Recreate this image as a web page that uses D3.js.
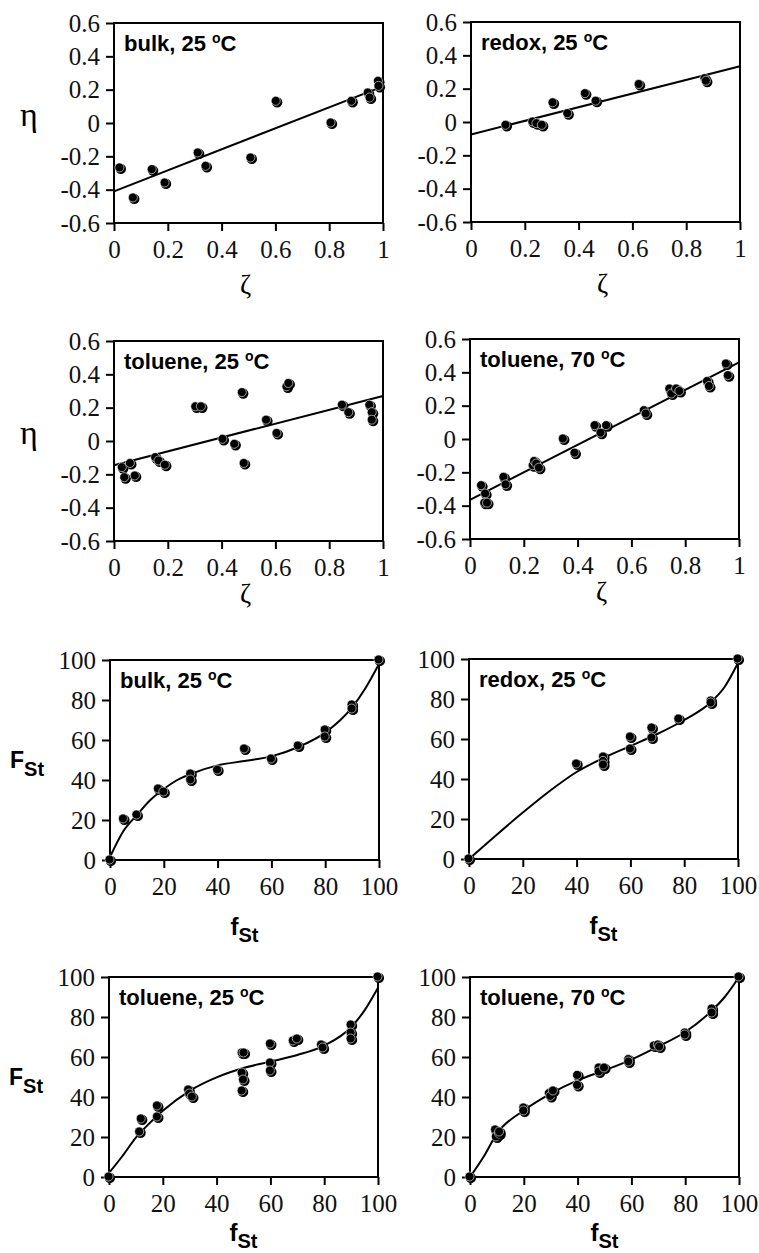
<!DOCTYPE html>
<html>
<head>
<meta charset="utf-8">
<script src="https://cdn.jsdelivr.net/npm/d3@7"></script>
<style>
  body { margin: 0; background: #fff; }
  svg { display: block; }
</style>
</head>
<body>
<div id="chart"></div>
<script>
// ---- data ----
// eta vs zeta panels
var bulkZeta = [0.022, 0.072, 0.142, 0.19, 0.313, 0.342, 0.509, 0.603, 0.807, 0.884, 0.945, 0.952, 0.983, 0.985];
var bulkEta = [-0.27, -0.45, -0.28, -0.36, -0.18, -0.26, -0.21, 0.13, 0.0, 0.13, 0.18, 0.15, 0.25, 0.22];
var bulkFit = [-0.41, 0.22]; // eta at zeta = 0 and 1

var redoxZeta = [0.13, 0.23, 0.245, 0.265, 0.305, 0.36, 0.425, 0.465, 0.625, 0.87, 0.875];
var redoxEta = [-0.02, 0.0, -0.01, -0.02, 0.115, 0.05, 0.17, 0.125, 0.225, 0.26, 0.245];
var redoxFit = [-0.075, 0.335];

var tol25Zeta = [0.031, 0.04, 0.061, 0.079, 0.155, 0.167, 0.191, 0.304, 0.325, 0.405, 0.449,
  0.477, 0.484, 0.567, 0.606, 0.643, 0.65, 0.849, 0.873, 0.951, 0.96, 0.96];
var tol25Eta = [-0.16, -0.22, -0.135, -0.21, -0.10, -0.12, -0.145, 0.205, 0.205, 0.01, -0.02,
  0.29, -0.135, 0.125, 0.045, 0.325, 0.345, 0.215, 0.17, 0.215, 0.17, 0.125];
var tol25Fit = [-0.145, 0.27];

var tol70Zeta = [0.043, 0.058, 0.055, 0.065, 0.126, 0.134, 0.235, 0.24, 0.248, 0.258, 0.347, 0.39,
  0.465, 0.487, 0.508, 0.648, 0.655, 0.743, 0.75, 0.768, 0.78, 0.883, 0.89, 0.953, 0.96];
var tol70Eta = [-0.28, -0.33, -0.385, -0.385, -0.23, -0.275, -0.16, -0.135, -0.15, -0.175, 0.0, -0.085,
  0.08, 0.035, 0.08, 0.17, 0.15, 0.30, 0.27, 0.30, 0.285, 0.345, 0.315, 0.45, 0.38];
var tol70Fit = [-0.365, 0.46];

// F_St vs f_St panels (points + fitted curve)
var bulkF = [0, 5, 10, 18, 20, 30, 30, 40, 50, 60, 70, 80, 80, 90, 90, 100];
var bulkFF = [0, 20.5, 22.5, 35.5, 34, 43, 40, 45, 55.5, 50.5, 57, 65, 61.5, 77.5, 75.5, 100];
var bulkCurveF = [0, 5, 10, 15, 20, 25, 30, 40, 50, 60, 70, 80, 90, 95, 100];
var bulkCurveFF = [1.5, 14.5, 22.5, 30, 35.5, 40, 43, 47.3, 49.5, 51.8, 56.5, 63.7, 76.3, 86, 98];

var redoxF = [0, 40, 50, 50, 50, 60, 60, 68, 68, 78, 90, 90, 100];
var redoxFF = [0, 47.5, 51, 48.8, 47, 61, 55, 65.5, 60.5, 70, 79, 78, 100];
var redoxCurveF = [0, 10, 20, 30, 40, 50, 60, 70, 80, 90, 95, 100];
var redoxCurveFF = [0, 11.8, 23.2, 34, 43.5, 50.5, 56.5, 62.5, 69.5, 78.5, 86, 98];

var tol25F = [0, 11.4, 12, 18, 18, 29.6, 30, 31, 49.5, 50.2, 49.5, 50, 49.5, 60, 60, 60,
  68.5, 70, 79, 79.6, 90, 90, 90, 100];
var tol25FF = [0, 22.5, 29, 35.5, 30, 43.5, 41.5, 40, 62, 62, 52, 48.5, 43, 66.5, 57, 53,
  68, 69, 66, 64.5, 76, 72, 69, 100];
var tol25CurveF = [0, 5, 10, 15, 20, 30, 40, 50, 60, 70, 80, 90, 95, 100];
var tol25CurveFF = [2, 10.5, 19.7, 26.8, 33.1, 43.1, 49.8, 54.5, 57.7, 61, 65.7, 74.9, 83.3, 94.6];

var tol70F = [0, 9.5, 9.8, 11, 11, 20, 20, 29.5, 30, 31, 40, 40, 48, 48, 50, 59, 59,
  68.5, 70, 70.5, 80, 80, 90, 90, 100];
var tol70FF = [0, 23.5, 20, 21.5, 22.5, 34.5, 33, 41.7, 40.3, 43, 50.8, 45.8, 54.5, 52.5, 54.5, 58.7, 57.5,
  65.5, 66, 65, 72, 71, 84, 82, 100];
var tol70CurveF = [0, 5, 10, 20, 30, 40, 50, 60, 70, 80, 90, 95, 100];
var tol70CurveFF = [0, 10, 21.7, 33.3, 41.7, 48.3, 53.3, 58.7, 65.3, 72.5, 83.3, 90.5, 100];

// tick values
var zetaTicks = [0, 0.2, 0.4, 0.6, 0.8, 1];
var etaTicks = [-0.6, -0.4, -0.2, 0, 0.2, 0.4, 0.6];
var fTicks = [0, 20, 40, 60, 80, 100];

// panel labels
var labels = ["bulk, 25 ", "redox, 25 ", "toluene, 25 ", "toluene, 70 "];

// ---- drawing ----
var width = 759, height = 1253;
var pw = 269, ph = 200;
var SERIF = "Liberation Serif";
var SANS = "Liberation Sans";

var svg = d3.select("#chart").append("svg")
  .attr("width", width)
  .attr("height", height);

svg.append("rect").attr("width", width).attr("height", height).attr("fill", "#fff");

function fmt(d) {
  return d === 0 ? "0" : String(+d.toFixed(1)); // plain hyphen for negatives
}

function zip(a, b) {
  return a.map(function (v, i) { return [v, b[i]]; });
}

function panel(left, top, o) {
  var g = svg.append("g").attr("transform", "translate(" + left + "," + top + ")");
  var x = d3.scaleLinear().domain(o.xDomain).range([0, pw]);
  var y = d3.scaleLinear().domain(o.yDomain).range([ph, 0]);

  var ya = g.append("g")
    .call(d3.axisLeft(y).tickValues(o.yTicks).tickSize(8).tickSizeOuter(0).tickPadding(6).tickFormat(fmt));
  var xa = g.append("g")
    .attr("transform", "translate(0," + ph + ")")
    .call(d3.axisBottom(x).tickValues(o.xTicks).tickSize(8).tickSizeOuter(0).tickPadding(9).tickFormat(fmt));
  [ya, xa].forEach(function (a) {
    a.attr("font-family", SERIF).attr("font-size", 25);
    a.select(".domain").remove();
    a.selectAll("line").attr("stroke", "#000").attr("stroke-width", 2);
    a.selectAll("text")
      .attr("font-family", SERIF)
      .attr("font-size", 25)
      .attr("fill", "#111");
  });

  g.append("rect")
    .attr("width", pw).attr("height", ph)
    .attr("fill", "none").attr("stroke", "#000").attr("stroke-width", 2);

  // fit line or curve
  var line = d3.line()
    .x(function (d) { return x(d[0]); })
    .y(function (d) { return y(d[1]); })
    .curve(o.smooth ? d3.curveMonotoneX : d3.curveLinear);
  g.append("path")
    .attr("d", line(o.fit))
    .attr("fill", "none").attr("stroke", "#000").attr("stroke-width", 2);

  // points: black disc with a thin white crescent (shaded look)
  var pts = g.append("g").selectAll("g").data(o.points).enter().append("g")
    .attr("transform", function (d) { return "translate(" + x(d[0]) + "," + y(d[1]) + ")"; });
  pts.append("circle").attr("cx", 0.9).attr("cy", 0.9).attr("r", 5.2).attr("fill", "#000");
  pts.append("circle").attr("cx", -0.5).attr("cy", -0.5).attr("r", 4.5)
    .attr("fill", "#000").attr("stroke", "#fff").attr("stroke-width", 0.6);

  // panel label with superscript o
  var t = g.append("text")
    .attr("font-family", SANS).attr("font-weight", "bold").attr("font-size", 22)
    .attr("x", 10).attr("y", 28)
    .text(o.label);
  t.append("tspan").attr("dy", -8).attr("font-size", 14).text("o");
  t.append("tspan").attr("dy", 8).text("C");

  return g;
}

var etaOpts = { xDomain: [0, 1], yDomain: [-0.6, 0.6], xTicks: zetaTicks, yTicks: etaTicks };
var fOpts = { xDomain: [0, 100], yDomain: [0, 100], xTicks: fTicks, yTicks: fTicks, smooth: true };

var etaPanels = [
  { left: 114, top: 23, pts: zip(bulkZeta, bulkEta), fit: bulkFit, label: labels[0] },
  { left: 471, top: 22, pts: zip(redoxZeta, redoxEta), fit: redoxFit, label: labels[1] },
  { left: 114, top: 341, pts: zip(tol25Zeta, tol25Eta), fit: tol25Fit, label: labels[2] },
  { left: 470, top: 339, pts: zip(tol70Zeta, tol70Eta), fit: tol70Fit, label: labels[3] }
];
var fPanels = [
  { left: 110, top: 660, pts: zip(bulkF, bulkFF), curve: zip(bulkCurveF, bulkCurveFF), label: labels[0] },
  { left: 469, top: 659, pts: zip(redoxF, redoxFF), curve: zip(redoxCurveF, redoxCurveFF), label: labels[1] },
  { left: 109, top: 977, pts: zip(tol25F, tol25FF), curve: zip(tol25CurveF, tol25CurveFF), label: labels[2] },
  { left: 470, top: 977, pts: zip(tol70F, tol70FF), curve: zip(tol70CurveF, tol70CurveFF), label: labels[3] }
];

etaPanels.forEach(function (p, i) {
  var g = panel(p.left, p.top, Object.assign({}, etaOpts, {
    points: p.pts, fit: [[0, p.fit[0]], [1, p.fit[1]]], label: p.label
  }));
  // zeta axis title
  g.append("text")
    .attr("font-family", SERIF).attr("font-size", 27)
    .attr("x", pw / 2 - 3).attr("y", i < 2 ? 271 : 262)
    .attr("text-anchor", "middle")
    .text("ζ");
  if (i % 2 === 0) {
    g.append("text")
      .attr("font-family", SERIF).attr("font-size", 34)
      .attr("x", -85).attr("y", ph / 2 + 3)
      .attr("text-anchor", "middle")
      .text("η");
  }
});

fPanels.forEach(function (p, i) {
  var g = panel(p.left, p.top, Object.assign({}, fOpts, {
    points: p.pts, fit: p.curve, label: p.label
  }));
  // f_St axis title
  var xt = g.append("text")
    .attr("font-family", SANS).attr("font-weight", "bold").attr("font-size", 24)
    .attr("x", pw / 2).attr("y", i < 2 ? 275 : 264)
    .attr("text-anchor", "middle");
  xt.append("tspan").text("f");
  xt.append("tspan").attr("dy", 7).attr("font-size", 20).text("St");
  if (i % 2 === 0) {
    var yt = g.append("text")
      .attr("font-family", SANS).attr("font-weight", "bold").attr("font-size", 23)
      .attr("x", -100).attr("y", ph / 2 + 8);
    yt.append("tspan").text("F");
    yt.append("tspan").attr("dy", 8).attr("font-size", 20).text("St");
  }
});
</script>
</body>
</html>
